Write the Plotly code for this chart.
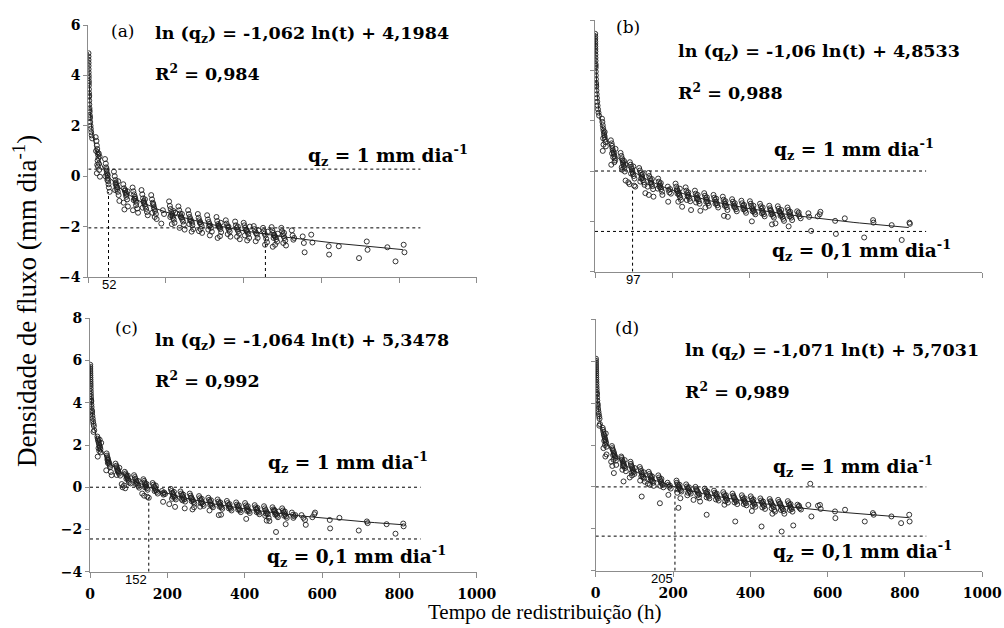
"""
Densidade de fluxo (ln qz) vs tempo de redistribuição, 4 painéis (a)-(d)
pontos observados + equação ajustada ln(qz) = a ln(t) + b
"""

import numpy as np
import plotly.graph_objects as go

# ---- pontos: (t [h], ln(qz)) ----
pts_a = [
    # início (t < 10 h)
    (0.5, 4.88), (0.55, 4.75), (0.6, 4.62), (0.7, 4.5), (0.75, 4.38), (0.8, 4.25), (0.9, 4.12),
    (1.0, 4.0), (1.1, 3.9), (1.2, 3.78), (1.3, 3.7), (1.4, 3.6), (1.6, 3.45), (1.8, 3.3), (2.0, 3.15),
    (2.1, 3.2), (2.3, 3.0), (2.6, 2.85), (3.0, 2.7), (3.2, 2.62), (3.4, 2.55), (3.8, 2.42), (4.0, 2.35),
    (4.3, 2.3), (5.0, 2.15), (5.8, 2.0), (6.5, 1.88), (7.5, 1.75), (8.5, 1.62), (10, 1.5),
    # 24 h
    (19, 1.55), (21, 1.4), (22, 1.22), (23, 1.08), (24, 0.95), (25, 0.85), (26, 0.72), (24, 0.62),
    (27, 0.5), (25, 0.38), (28, 0.25), (22, 0.12), (29, 0.78), (20, 1.0), (27, 0.9), (23, 0.45), (30, -0.02),
    # 48 h
    (43, 0.68), (45, 0.5), (46, 0.35), (47, 0.22), (48, 0.12), (49, 0.02), (50, -0.08), (51, -0.2),
    (52, -0.32), (47, 0.28), (50, 0.05), (53, -0.45), (55, -0.62), (44, 0.0), (49, -0.15),
    # 72 h
    (66, 0.18), (68, 0.0), (70, -0.15), (71, -0.25), (72, -0.35), (73, -0.42), (74, -0.52), (76, -0.62),
    (70, -0.3), (75, -0.45), (78, -0.75), (80, -0.98), (69, -0.55), (77, -0.2),
    # 96 h
    (90, -0.32), (92, -0.48), (94, -0.58), (96, -0.66), (97, -0.74), (98, -0.82), (100, -0.92),
    (95, -0.55), (99, -0.7), (91, -1.05), (102, -1.2), (93, -1.32), (101, -0.6),
    # 120 h
    (114, -0.45), (116, -0.6), (118, -0.72), (120, -0.82), (121, -0.9), (122, -0.98), (124, -1.05),
    (119, -0.88), (123, -1.15), (126, -1.28), (115, -1.35), (128, -1.45), (117, -0.95),
    # 144 h
    (137, -0.55), (139, -0.72), (141, -0.88), (143, -0.98), (144, -1.06), (145, -1.12), (147, -1.2),
    (149, -1.3), (142, -1.02), (146, -0.92), (151, -1.42), (153, -1.55), (140, -1.25),
    # 168 h
    (162, -0.75), (164, -0.92), (166, -1.05), (168, -1.15), (169, -1.24), (170, -1.3), (172, -1.38),
    (174, -1.5), (167, -1.1), (171, -1.62), (176, -1.7), (165, -1.45),
    # 192 h
    (188, -1.88), (192, -1.35), (195, -1.5),
    # 216 h
    (208, -1.0), (210, -1.18), (212, -1.3), (214, -1.42), (216, -1.5), (217, -1.58), (218, -1.65),
    (220, -1.72), (213, -1.55), (219, -1.38), (222, -1.85), (215, -1.9), (211, -1.62), (224, -1.45),
    # 240 h
    (232, -1.2), (234, -1.35), (236, -1.48), (238, -1.58), (240, -1.65), (242, -1.72), (244, -1.8),
    (239, -1.62), (246, -1.92), (235, -2.05), (248, -2.12), (241, -1.5),
    # 264 h
    (257, -1.35), (259, -1.5), (261, -1.62), (263, -1.7), (265, -1.78), (267, -1.85), (262, -1.75),
    (268, -1.95), (270, -2.1), (266, -2.2), (260, -1.9),
    # 288 h
    (282, -1.5), (284, -1.65), (286, -1.75), (288, -1.82), (290, -1.9), (292, -1.98), (287, -1.85),
    (289, -2.1), (293, -2.25), (285, -2.18),
    # 312 h
    (306, -1.55), (308, -1.72), (310, -1.82), (312, -1.9), (314, -1.96), (316, -2.05), (311, -1.98),
    (318, -2.2), (313, -2.35), (309, -2.12),
    # 336 h
    (330, -1.62), (332, -1.78), (334, -1.9), (336, -1.96), (337, -2.0), (338, -2.04), (340, -2.1),
    (335, -1.98), (342, -2.22), (339, -2.38), (333, -2.45), (341, -1.85),
    # 360 h
    (354, -1.75), (356, -1.88), (358, -1.98), (360, -2.05), (362, -2.12), (364, -2.2), (359, -2.3),
    (366, -2.4), (361, -2.0),
    # 384 h
    (378, -1.8), (380, -1.95), (382, -2.05), (384, -2.12), (386, -2.18), (388, -2.28), (383, -2.4),
    (390, -2.5), (385, -2.0),
    # 408 h
    (400, -1.85), (402, -1.95), (404, -2.05), (406, -2.12), (408, -2.18), (410, -2.22), (412, -2.3),
    (407, -2.15), (414, -2.45), (409, -2.55), (403, -2.35), (416, -2.0),
    # 432 h
    (426, -1.98), (428, -2.1), (430, -2.2), (432, -2.26), (434, -2.32), (436, -2.45), (431, -2.58),
    (438, -2.15),
    # 456 h
    (450, -2.05), (452, -2.18), (454, -2.28), (456, -2.35), (458, -2.48), (460, -2.62), (455, -2.72),
    (462, -2.2),
    # 480 h
    (472, -2.02), (474, -2.15), (476, -2.25), (478, -2.32), (480, -2.38), (482, -2.42), (484, -2.5),
    (479, -2.35), (486, -2.6), (481, -2.72), (475, -2.8), (488, -2.28), (477, -2.45),
    # 504 h
    (497, -2.05), (499, -2.18), (501, -2.3), (503, -2.38), (505, -2.45), (507, -2.55), (502, -2.65),
    (509, -2.75), (504, -2.25),
    # 528 h
    (524, -2.15), (526, -2.35), (528, -2.52), (530, -2.45),
    # > 540 h
    (552, -2.39), (555, -2.65), (557, -3.02), (574, -2.32), (577, -2.63), (619, -2.78), (620, -3.11),
    (645, -2.78), (697, -3.25), (717, -2.59), (719, -2.92), (770, -2.82), (791, -3.38), (812, -2.72),
    (814, -3.02),
]

pts_b = [
    (0.55, 5.45), (0.6, 5.35), (0.65, 5.25), (0.7, 5.15), (0.8, 5.05), (0.85, 4.95), (0.9, 4.85),
    (1.0, 4.75), (1.1, 4.62), (1.2, 4.5), (1.35, 4.38), (1.5, 4.25), (1.6, 4.18), (1.7, 4.1),
    (1.9, 3.95), (2.1, 3.8), (2.4, 3.65), (2.8, 3.5), (3.0, 3.42), (3.2, 3.35), (3.7, 3.2), (4.3, 3.05),
    (5.0, 2.9), (5.8, 2.75), (6.7, 2.6), (7.8, 2.45), (9.0, 2.32), (10.5, 2.2),
    # 24 h
    (18, 2.08), (19, 1.95), (20, 1.82), (21, 1.7), (22, 1.6), (23, 1.5), (24, 1.42), (25, 1.35),
    (26, 1.25), (27, 1.15), (22, 1.05), (28, 0.98), (21, 1.3), (25, 1.55), (20, 0.8),
    # 48 h
    (41, 1.22), (43, 1.1), (44, 1.0), (45, 0.9), (46, 0.82), (48, 0.75), (49, 0.68), (50, 0.6),
    (51, 0.5), (47, 0.55), (52, 0.42), (44, 0.7), (42, 0.25), (53, 0.88), (50, 0.35),
    # 72 h
    (66, 0.72), (68, 0.6), (70, 0.5), (71, 0.42), (72, 0.35), (73, 0.28), (74, 0.2), (76, 0.12),
    (70, 0.05), (75, 0.4), (78, 0.25), (69, 0.15), (77, -0.02),
    # 96 h
    (90, 0.35), (92, 0.25), (94, 0.15), (95, 0.08), (96, 0.02), (97, -0.05), (98, -0.12), (100, -0.2),
    (93, -0.1), (99, 0.18), (102, -0.3), (86, -0.45), (79, -0.38), (89, -0.52), (104, -0.62), (101, -0.58),
    # 120 h
    (114, 0.12), (116, 0.02), (118, -0.08), (120, -0.16), (121, -0.22), (122, -0.28), (124, -0.36),
    (126, -0.45), (119, -0.3), (123, -0.12), (128, -0.55), (130, -0.88), (117, -0.42),
    # 144 h
    (138, -0.08), (140, -0.2), (142, -0.3), (144, -0.38), (145, -0.45), (146, -0.52), (148, -0.6),
    (143, -0.48), (150, -0.72), (139, -0.95), (151, -1.02), (147, -0.32), (136, -0.62),
    # 168 h
    (163, -0.3), (165, -0.42), (167, -0.52), (168, -0.58), (169, -0.65), (171, -0.72), (166, -0.62),
    (173, -0.82), (170, -0.48), (174, -0.95), (162, -0.7),
    # 192 h
    (188, -0.62), (190, -0.75), (192, -0.85), (194, -0.72), (189, -1.22), (196, -0.9),
    # 216 h
    (208, -0.5), (210, -0.62), (212, -0.72), (214, -0.8), (216, -0.86), (217, -0.92), (218, -0.98),
    (220, -1.05), (213, -0.9), (222, -1.15), (215, -1.22), (211, -0.78), (225, -1.42), (219, -0.7),
    # 240 h
    (234, -0.65), (236, -0.78), (238, -0.88), (240, -0.95), (242, -1.02), (244, -1.1), (239, -1.0),
    (246, -1.2), (237, -1.15), (241, -0.85), (248, -1.55),
    # 264 h
    (258, -0.78), (260, -0.9), (262, -1.0), (264, -1.06), (266, -1.12), (268, -1.2), (263, -1.1),
    (270, -1.3), (261, -1.25), (272, -1.58), (265, -0.95),
    # 288 h
    (282, -0.88), (284, -0.98), (286, -1.08), (288, -1.14), (290, -1.2), (292, -1.28), (287, -1.22),
    (294, -1.38), (289, -1.05), (285, -1.45),
    # 312 h
    (306, -0.95), (308, -1.06), (310, -1.15), (312, -1.22), (314, -1.28), (316, -1.36), (311, -1.3),
    (318, -1.45), (313, -1.1),
    # 336 h
    (330, -1.02), (332, -1.14), (334, -1.24), (336, -1.3), (338, -1.36), (340, -1.44), (335, -1.38),
    (342, -1.55), (333, -1.78), (343, -1.82), (337, -1.2),
    # 360 h
    (354, -1.12), (356, -1.22), (358, -1.32), (360, -1.38), (362, -1.45), (364, -1.52), (359, -1.42),
    (366, -1.6), (361, -1.28),
    # 384 h
    (378, -1.18), (380, -1.28), (382, -1.38), (384, -1.45), (386, -1.5), (388, -1.58), (383, -1.52),
    (390, -1.66), (385, -1.35),
    # 408 h
    (400, -1.2), (402, -1.3), (404, -1.4), (406, -1.48), (408, -1.52), (410, -1.58), (412, -1.65),
    (407, -1.6), (405, -2.0), (414, -1.72), (409, -1.38),
    # 432 h
    (426, -1.3), (428, -1.4), (430, -1.5), (432, -1.58), (434, -1.64), (436, -1.72), (431, -1.68),
    (438, -1.8), (433, -1.45),
    # 456 h
    (450, -1.38), (452, -1.48), (454, -1.58), (456, -1.64), (458, -1.7), (460, -1.78), (455, -1.72),
    (462, -1.85), (457, -2.12), (466, -2.08), (453, -1.55),
    # 480 h
    (472, -1.4), (474, -1.5), (476, -1.6), (478, -1.66), (480, -1.7), (482, -1.75), (484, -1.82),
    (479, -1.78), (486, -1.9), (477, -1.62), (481, -1.55), (488, -1.98),
    # 504 h
    (497, -1.45), (499, -1.55), (501, -1.65), (503, -1.72), (505, -1.78), (507, -1.85), (502, -1.8),
    (509, -1.95), (500, -2.2), (504, -1.62),
    # 528 h
    (522, -1.6), (525, -1.72), (528, -1.8), (531, -1.88), (526, -1.65),
    # > 540 h
    (551, -1.68), (553, -1.82), (558, -2.38), (575, -1.8), (580, -1.72), (582, -1.62), (620, -1.98),
    (622, -2.5), (645, -1.88), (695, -2.64), (718, -1.95), (719, -2.05), (766, -2.15), (792, -2.74),
    (812, -2.05), (813, -2.1),
]

pts_c = [
    (0.65, 5.8), (0.7, 5.7), (0.75, 5.6), (0.8, 5.5), (0.9, 5.4), (1.0, 5.3), (1.1, 5.2), (1.2, 5.1),
    (1.3, 5.0), (1.45, 4.9), (1.6, 4.8), (1.8, 4.68), (2.0, 4.55), (2.2, 4.42), (2.5, 4.3), (2.8, 4.18),
    (3.0, 4.1), (3.2, 4.05), (3.6, 3.92), (4.1, 3.8), (4.7, 3.65), (5.0, 3.6), (5.4, 3.52), (6.2, 3.38),
    (7.0, 3.25), (8.0, 3.12), (9.0, 3.0), (10, 2.9), (11, 2.7), (9, 2.62),
    # 24 h
    (19, 2.4), (20, 2.3), (21, 2.22), (22, 2.15), (23, 2.08), (24, 2.0), (25, 1.94), (26, 1.88),
    (27, 1.8), (24, 1.72), (28, 1.65), (22, 1.85), (20, 1.45), (29, 2.1), (25, 2.25),
    # 48 h
    (43, 1.6), (44, 1.5), (45, 1.42), (46, 1.35), (47, 1.28), (48, 1.22), (49, 1.16), (50, 1.1),
    (51, 1.02), (46, 1.15), (52, 0.95), (45, 1.3), (42, 0.8), (56, 0.57), (54, 0.72),
    # 72 h
    (66, 1.12), (68, 1.02), (69, 0.95), (70, 0.88), (72, 0.82), (73, 0.76), (74, 0.7), (75, 0.64),
    (71, 0.78), (76, 0.92), (69, 0.58), (78, 0.55),
    # 96 h
    (90, 0.73), (92, 0.65), (93, 0.58), (95, 0.52), (96, 0.48), (97, 0.42), (99, 0.36), (100, 0.3),
    (94, 0.4), (101, 0.22), (82, 0.15), (88, 0.08), (105, 0.18), (98, 0.55), (84, 0.0), (91, -0.05),
    # 120 h
    (114, 0.57), (116, 0.48), (117, 0.4), (119, 0.32), (120, 0.26), (121, 0.2), (123, 0.12),
    (125, 0.05), (118, 0.16), (124, 0.3), (127, -0.02),
    # 144 h
    (138, 0.38), (140, 0.3), (141, 0.22), (143, 0.14), (144, 0.08), (145, 0.02), (147, -0.05),
    (149, -0.12), (142, 0.0), (146, 0.16), (140, -0.4), (148, -0.45), (152, -0.5), (135, -0.3),
    # 168 h
    (162, 0.2), (164, 0.12), (166, 0.04), (168, -0.04), (169, -0.1), (171, -0.15), (173, -0.22),
    (167, -0.18), (170, 0.08), (175, -0.3),
    # 192 h
    (186, -0.18), (188, -0.28), (190, -0.35), (192, -0.25), (189, -0.69), (194, -0.32),
    # 216 h
    (209, -0.08), (211, -0.18), (213, -0.26), (215, -0.32), (216, -0.38), (218, -0.44), (220, -0.5),
    (214, -0.45), (222, -0.58), (212, -0.55), (217, -0.22), (205, -0.8), (220, -0.93),
    # 240 h
    (234, -0.2), (236, -0.3), (238, -0.38), (240, -0.45), (242, -0.52), (244, -0.58), (239, -0.62),
    (246, -0.68), (241, -0.35), (245, -1.0), (237, -0.55),
    # 264 h
    (258, -0.3), (260, -0.4), (262, -0.48), (264, -0.56), (266, -0.62), (268, -0.7), (263, -0.66),
    (270, -0.78), (261, -0.52), (265, -1.05), (269, -0.95),
    # 288 h
    (282, -0.42), (284, -0.52), (286, -0.6), (288, -0.66), (290, -0.72), (292, -0.8), (287, -0.76),
    (294, -0.88), (289, -0.55), (285, -0.92),
    # 312 h
    (306, -0.5), (308, -0.6), (310, -0.68), (312, -0.75), (314, -0.82), (316, -0.88), (311, -0.84),
    (318, -0.95), (313, -0.62), (309, -1.1),
    # 336 h
    (330, -0.58), (332, -0.68), (334, -0.76), (336, -0.82), (338, -0.88), (340, -0.95), (335, -0.92),
    (342, -1.02), (337, -0.72), (333, -1.32), (339, -1.3),
    # 360 h
    (354, -0.65), (356, -0.75), (358, -0.84), (360, -0.9), (362, -0.96), (364, -1.02), (359, -1.0),
    (366, -1.1), (361, -0.8),
    # 384 h
    (378, -0.72), (380, -0.82), (382, -0.9), (384, -0.97), (386, -1.04), (388, -1.1), (383, -1.06),
    (390, -1.18), (385, -0.86),
    # 408 h
    (401, -0.75), (403, -0.86), (405, -0.95), (407, -1.02), (409, -1.08), (411, -1.14), (406, -1.12),
    (413, -1.22), (408, -0.9), (404, -1.5),
    # 432 h
    (426, -0.85), (428, -0.95), (430, -1.02), (432, -1.08), (434, -1.14), (436, -1.2), (431, -1.18),
    (438, -1.28), (433, -0.98),
    # 456 h
    (450, -0.9), (452, -1.0), (454, -1.08), (456, -1.15), (458, -1.22), (460, -1.28), (455, -1.25),
    (462, -1.45), (457, -1.58), (464, -1.6), (453, -1.35),
    # 480 h
    (472, -0.95), (474, -1.05), (476, -1.12), (478, -1.18), (480, -1.22), (482, -1.28), (484, -1.35),
    (479, -1.3), (486, -1.42), (477, -1.08), (481, -2.12), (488, -1.15),
    # 504 h
    (497, -1.0), (499, -1.1), (501, -1.18), (503, -1.25), (505, -1.3), (507, -1.38), (502, -1.35),
    (509, -1.45), (504, -1.15), (506, -1.75),
    # 528 h
    (522, -1.2), (525, -1.3), (528, -1.38), (531, -1.32), (526, -1.45),
    # > 540 h
    (547, -1.32), (552, -1.45), (556, -1.55), (558, -1.78), (575, -1.42), (580, -1.28), (582, -1.2),
    (620, -1.55), (621, -1.95), (645, -1.45), (695, -2.05), (716, -1.62), (718, -1.7), (767, -1.75),
    (790, -2.2), (810, -1.72), (811, -1.85),
]

pts_d = [
    (0.65, 6.12), (0.7, 6.02), (0.75, 5.92), (0.8, 5.82), (0.9, 5.72), (1.0, 5.62), (1.1, 5.52),
    (1.2, 5.42), (1.3, 5.32), (1.45, 5.22), (1.6, 5.12), (1.8, 5.0), (2.0, 4.88), (2.2, 4.76),
    (2.5, 4.64), (2.8, 4.52), (3.0, 4.45), (3.2, 4.4), (3.6, 4.26), (4.1, 4.12), (4.7, 3.98), (5.0, 3.92),
    (5.4, 3.85), (6.2, 3.72), (7.0, 3.6), (8.0, 3.48), (9.0, 3.36), (10, 3.25), (11, 3.0), (9.5, 2.92),
    # 24 h
    (18, 2.82), (19, 2.72), (20, 2.62), (21, 2.52), (22, 2.45), (23, 2.38), (24, 2.3), (25, 2.24),
    (26, 2.16), (27, 2.08), (24, 2.0), (28, 1.92), (22, 2.2), (26, 2.55), (20, 1.85), (25, 1.45), (28, 1.55),
    # 48 h
    (42, 1.95), (43, 1.85), (44, 1.78), (46, 1.7), (47, 1.62), (48, 1.56), (49, 1.5), (50, 1.44),
    (51, 1.38), (46, 1.3), (52, 1.25), (45, 1.52), (40, 1.2), (53, 1.05), (47, 0.66), (43, 1.0),
    # 72 h
    (66, 1.45), (67, 1.38), (68, 1.3), (70, 1.22), (71, 1.15), (72, 1.1), (73, 1.04), (74, 0.98),
    (76, 0.9), (70, 1.0), (75, 1.28), (69, 0.82), (72, 0.26), (78, 0.75),
    # 96 h
    (90, 1.2), (91, 1.1), (92, 1.02), (94, 0.95), (95, 0.88), (96, 0.82), (97, 0.76), (98, 0.7),
    (100, 0.62), (94, 0.55), (101, 0.9), (88, 0.45), (93, 0.68),
    # 120 h
    (114, 0.95), (116, 0.85), (117, 0.76), (119, 0.68), (120, 0.6), (121, 0.54), (123, 0.48),
    (125, 0.4), (118, 0.5), (124, 0.7), (119, -0.46), (127, 0.25), (115, 0.3),
    # 144 h
    (137, 0.72), (139, 0.62), (141, 0.54), (143, 0.46), (144, 0.4), (145, 0.34), (147, 0.28),
    (149, 0.2), (142, 0.3), (146, 0.5), (140, 0.1), (150, 0.05), (135, 0.15),
    # 168 h
    (162, 0.55), (164, 0.45), (166, 0.36), (168, 0.28), (169, 0.22), (171, 0.16), (173, 0.1),
    (167, 0.05), (170, 0.38), (166, -0.78), (175, -0.02),
    # 192 h
    (186, 0.2), (188, 0.1), (190, 0.0), (192, 0.06), (188, -0.38), (194, -0.08),
    # 216 h
    (209, 0.3), (210, 0.2), (212, 0.12), (214, 0.05), (215, 0.0), (216, -0.05), (218, -0.1),
    (220, -0.16), (213, -0.12), (222, -0.22), (211, -0.28), (214, -1.0), (217, 0.1), (219, -0.54),
    # 240 h
    (234, 0.12), (236, 0.02), (238, -0.06), (240, -0.12), (242, -0.18), (244, -0.24), (239, -0.28),
    (246, -0.32), (241, -0.02), (253, -0.62), (237, -0.4),
    # 264 h
    (258, 0.0), (260, -0.1), (262, -0.18), (264, -0.24), (266, -0.3), (268, -0.36), (263, -0.4),
    (270, -0.7), (261, -0.15), (267, -0.5),
    # 288 h
    (282, -0.08), (284, -0.18), (286, -0.26), (288, -0.33), (290, -0.4), (292, -0.46), (287, -0.5),
    (289, -0.22), (287, -1.33), (294, -0.55),
    # 312 h
    (306, -0.18), (308, -0.28), (310, -0.36), (312, -0.42), (314, -0.48), (316, -0.55), (311, -0.6),
    (318, -0.65), (313, -0.32),
    # 336 h
    (330, -0.25), (332, -0.35), (334, -0.44), (336, -0.5), (338, -0.56), (340, -0.62), (335, -0.68),
    (342, -0.75), (337, -0.4), (333, -0.85),
    # 360 h
    (354, -0.32), (356, -0.42), (358, -0.52), (360, -0.58), (362, -0.64), (364, -0.7), (359, -0.74),
    (366, -0.82), (361, -1.65), (357, -0.48),
    # 384 h
    (378, -0.4), (380, -0.5), (382, -0.6), (384, -0.66), (386, -0.72), (388, -0.78), (383, -0.82),
    (390, -0.88), (385, -0.55),
    # 408 h
    (401, -0.45), (403, -0.55), (405, -0.65), (407, -0.72), (409, -0.78), (411, -0.84), (406, -0.9),
    (413, -0.95), (408, -0.6), (404, -1.15),
    # 432 h
    (426, -0.55), (428, -0.65), (430, -0.74), (432, -0.8), (434, -0.86), (436, -0.92), (431, -0.98),
    (438, -1.05), (429, -1.89), (433, -0.7),
    # 456 h
    (450, -0.58), (452, -0.68), (454, -0.78), (456, -0.84), (458, -0.9), (460, -0.96), (455, -1.02),
    (462, -1.1), (457, -1.28), (453, -0.72), (464, -1.18),
    # 480 h
    (472, -0.62), (474, -0.72), (476, -0.82), (478, -0.88), (480, -0.94), (482, -1.0), (484, -1.06),
    (479, -1.1), (486, -1.15), (481, -2.13), (477, -0.78), (488, -1.28),
    # 504 h
    (497, -0.68), (499, -0.78), (501, -0.86), (503, -0.94), (505, -1.0), (507, -1.06), (502, -1.1),
    (509, -1.18), (511, -1.84), (504, -0.82),
    # 528 h
    (522, -0.85), (525, -0.95), (528, -1.02), (531, -1.08), (526, -0.9),
    # > 540 h
    (550, -0.86), (555, 0.15), (558, -1.41), (575, -0.9), (580, -0.86), (582, -1.05), (619, -1.17),
    (620, -1.49), (645, -1.09), (696, -1.65), (717, -1.25), (719, -1.33), (765, -1.41), (790, -1.73),
    (811, -1.33), (812, -1.65),
]

# ---- equações ajustadas (texto dos painéis) ----
panel_tags = ["(a)", "(b)", "(c)", "(d)"]
slopes = [-1.062, -1.06, -1.064, -1.071]
intercepts = [4.1984, 4.8533, 5.3478, 5.7031]
r2_values = ["0,984", "0,988", "0,992", "0,989"]
fit_t_start = [0.5, 0.55, 0.65, 0.65]
fit_t_end = 810

# linhas de referência qz = 1 e qz = 0,1 mm/dia (posição como desenhada)
ref_q1 = [0.28, 0.0, 0.0, 0.0]
ref_q01 = [-2.05, -2.4, -2.45, -2.35]
ref_t_end = 855

# tempo em que qz = 1 mm/dia (linha vertical + rótulo)
t_q1 = [52, 97, 152, 205]
t_q1_top = [-0.63, -0.65, -0.47, 0.0]
# painel (a): tempo para qz = 0,1
t_q01_a = 456
t_q01_a_top = -2.08

y_ranges = [(-4, 6), (-4, 6), (-4, 8), (-4, 8)]

# ---- layout (pixels -> paper) ----
W, H = 1004, 628
px_boxes = [  # x0, x1, ytop, ybottom
    (88.3, 476.7, 25, 277),
    (595, 982.3, 20, 271.7),
    (90, 476.7, 318.3, 571.7),
    (595.7, 982.3, 319.3, 570.7),
]
# posições dos textos em coordenadas dos eixos
tag_pos = [(89, 5.76), (84, 5.72), (95, 7.54), (80, 7.58)]
eq_pos = [(167, 5.64), (209, 4.69), (163, 6.88), (225, 6.45)]
r2_pos = [(167, 4.1), (209, 3.14), (163, 5.08), (225, 4.62)]
q1_pos = [(983, 0.84), (880, 0.84), (879, 1.15), (878, 0.96)]
q01_pos = [(1008, -1.22), (924, -3.14), (926, -3.3), (927, -3.09)]

SERIF = "DejaVu Serif, Liberation Serif, Times New Roman, serif"
TIMES = "Liberation Serif, Times New Roman, Times, serif"
AX_COLOR = "#8c8c8c"

fig = go.Figure()
annotations = []

all_pts = [pts_a, pts_b, pts_c, pts_d]

for i in range(4):
    n = "" if i == 0 else str(i + 1)
    xa, ya = "x" + n, "y" + n
    x0, x1, yt, yb = px_boxes[i]

    fig.update_layout(**{
        "xaxis" + n: dict(
            domain=[x0 / W, x1 / W], range=[0, 1000], anchor=ya, automargin=False,
            tickvals=[0, 200, 400, 600, 800, 1000], showticklabels=i >= 2,
            ticks="outside", ticklen=5, tickcolor=AX_COLOR, showgrid=False, zeroline=False,
            showline=True, linecolor=AX_COLOR, linewidth=1, ticklabelstandoff=4,
            tickfont=dict(family=SERIF, size=14, color="black", weight="bold"),
        ),
        "yaxis" + n: dict(
            domain=[1 - yb / H, 1 - yt / H], range=list(y_ranges[i]), anchor=xa, automargin=False,
            dtick=2, showticklabels=i % 2 == 0,
            ticks="outside", ticklen=4, tickcolor=AX_COLOR, showgrid=False, zeroline=False,
            showline=True, linecolor=AX_COLOR, linewidth=1,
            tickfont=dict(family=SERIF, size=14, color="black", weight="bold"),
        ),
    })

    # linhas de referência horizontais
    for lvl in (ref_q1[i], ref_q01[i]):
        fig.add_trace(go.Scatter(
            x=[0, ref_t_end], y=[lvl, lvl], xaxis=xa, yaxis=ya, mode="lines",
            line=dict(color="black", width=1, dash="dot"), hoverinfo="skip"))

    # linha vertical no tempo de qz = 1
    fig.add_trace(go.Scatter(
        x=[t_q1[i], t_q1[i]], y=[y_ranges[i][0], t_q1_top[i]], xaxis=xa, yaxis=ya,
        mode="lines", line=dict(color="black", width=1, dash="dot"), hoverinfo="skip"))
    if i == 0:
        fig.add_trace(go.Scatter(
            x=[t_q01_a, t_q01_a], y=[y_ranges[i][0], t_q01_a_top], xaxis=xa, yaxis=ya,
            mode="lines", line=dict(color="black", width=1, dash="dot"), hoverinfo="skip"))

    # pontos observados
    t_obs, y_obs = zip(*all_pts[i])
    fig.add_trace(go.Scatter(
        x=t_obs, y=y_obs, xaxis=xa, yaxis=ya, mode="markers",
        marker=dict(symbol="circle-open", size=5, color="#1e1e1e", line=dict(width=0.9))))

    # curva ajustada
    t_fit = np.geomspace(fit_t_start[i], fit_t_end, 300)
    fig.add_trace(go.Scatter(
        x=t_fit, y=slopes[i] * np.log(t_fit) + intercepts[i], xaxis=xa, yaxis=ya,
        mode="lines", line=dict(color="#222222", width=1), hoverinfo="skip"))

    # textos
    slope_txt = str(slopes[i]).replace(".", ",")
    icpt_txt = str(intercepts[i]).replace(".", ",")
    eq_font = dict(family=SERIF, size=17.5, color="black")
    q_font = dict(family=SERIF, size=18.5, color="black")
    annotations += [
        dict(x=tag_pos[i][0], y=tag_pos[i][1], xref=xa, yref=ya, text=panel_tags[i],
             showarrow=False, font=dict(family=SERIF, size=17, color="black")),
        dict(x=eq_pos[i][0], y=eq_pos[i][1], xref=xa, yref=ya, xanchor="left",
             text=f"<b>ln (q<sub>z</sub>) = {slope_txt} ln(t) + {icpt_txt}</b>",
             showarrow=False, font=eq_font),
        dict(x=r2_pos[i][0], y=r2_pos[i][1], xref=xa, yref=ya, xanchor="left",
             text=f"<b>R<sup>2</sup> = {r2_values[i]}</b>", showarrow=False, font=eq_font),
        dict(x=q1_pos[i][0], y=q1_pos[i][1], xref=xa, yref=ya, xanchor="right",
             text="<b>q<sub>z</sub> = 1 mm dia<sup>-1</sup></b>", showarrow=False, font=q_font),
        dict(x=q01_pos[i][0], y=q01_pos[i][1], xref=xa, yref=ya, xanchor="right",
             text="<b>q<sub>z</sub> = 0,1 mm dia<sup>-1</sup></b>", showarrow=False, font=q_font),
        dict(x=t_q1[i], y=y_ranges[i][0], xref=xa, yref=ya,
             xanchor="center" if i < 2 else "right", yanchor="top", yshift=2,
             text=str(t_q1[i]), showarrow=False,
             font=dict(family="Liberation Sans, Arial, sans-serif", size=13, color="black")),
    ]

# títulos dos eixos
annotations += [
    dict(x=545 / W, y=1 - 612 / H, xref="paper", yref="paper",
         xanchor="center", yanchor="middle",
         text="Tempo de redistribuição (h)", showarrow=False,
         font=dict(family=TIMES, size=21, color="black")),
    dict(x=25 / W, y=1 - 301 / H, xref="paper", yref="paper", textangle=-90,
         xanchor="center", yanchor="middle",
         text="Densidade de fluxo (mm dia<sup>-1</sup>)", showarrow=False,
         font=dict(family=TIMES, size=27, color="black")),
]

fig.update_layout(
    width=W, height=H, margin=dict(l=0, r=0, t=0, b=0, pad=0),
    paper_bgcolor="white", plot_bgcolor="white",
    showlegend=False, annotations=annotations,
)

# página sem margem do body, para a figura ocupar a janela inteira
fig.write_html("out.html", config={"displayModeBar": False},
               post_script="document.body.style.margin = '0';")
